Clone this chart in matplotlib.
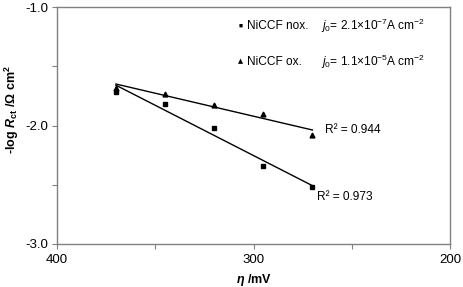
import numpy as np
import matplotlib
matplotlib.use("Agg")
from matplotlib import pyplot as plt
from matplotlib.ticker import MultipleLocator

plt.rcParams['font.family'] = ['Liberation Sans', 'DejaVu Sans']
plt.rcParams['mathtext.fontset'] = 'custom'
plt.rcParams['mathtext.rm'] = 'Liberation Sans'
plt.rcParams['mathtext.it'] = 'Liberation Sans:italic'
plt.rcParams['mathtext.bf'] = 'Liberation Sans:bold'
plt.rcParams['mathtext.bfit'] = 'Liberation Sans:bold:italic'

eta = np.array([370, 345, 320, 295, 270])
nox = np.array([-1.72, -1.82, -2.02, -2.34, -2.52])
ox = np.array([-1.68, -1.73, -1.83, -1.90, -2.08])

fig = plt.figure(figsize=(4.64, 2.87), dpi=100)
ax = fig.add_axes([57/464, 1 - 244/287, (450-57)/464, (244-7)/287])

ax.plot(eta, nox, 's', color='black', markersize=3)
ax.plot(eta, ox, '^', color='black', markersize=3.5)

for y in (nox, ox):
    k, b = np.polyfit(eta, y, 1)
    xx = np.array([eta.max(), eta.min()])
    ax.plot(xx, k * xx + b, color='black', linewidth=1)

ax.set_xlim(400, 200)
ax.set_ylim(-3.0, -1.0)
ax.xaxis.set_major_locator(MultipleLocator(100))
ax.xaxis.set_minor_locator(MultipleLocator(50))
ax.yaxis.set_major_locator(MultipleLocator(1.0))
ax.yaxis.set_minor_locator(MultipleLocator(0.5))
ax.yaxis.set_major_formatter(matplotlib.ticker.FormatStrFormatter('%.1f'))
ax.tick_params(which='both', direction='out', length=3.5, color='#808080',
               labelsize=9.5, width=0.8)
ax.tick_params(axis='x', pad=4)
ax.tick_params(axis='y', pad=3)
for s in ax.spines.values():
    s.set_color('#808080')
    s.set_linewidth(1.0)

ax.set_xlabel(r"$\mathbfit{\eta}$ /mV", fontsize=9, fontweight='bold', labelpad=4)
ax.set_ylabel(r"-log $\mathbfit{R}_{\mathbf{ct}}$ /Ω cm$^{\mathbf{2}}$", fontsize=9,
              fontweight='bold')
ax.yaxis.set_label_coords(-0.092, 0.565)

ax.text(303.5, -1.16, "NiCCF nox.", fontsize=8.6, va='center')
ax.text(306.5, -1.16, "■", fontsize=4.8, va='center', ha='center')
ax.text(303.5, -1.46, "NiCCF ox.", fontsize=8.6, va='center')
ax.text(306.5, -1.46, "▲", fontsize=4.8, va='center', ha='center', family='DejaVu Sans')
ax.text(265.6, -1.16, r"$j_0$= 2.1×10$^{-7}$A cm$^{-2}$", fontsize=8.6, va='center')
ax.text(265.6, -1.46, r"$j_0$= 1.1×10$^{-5}$A cm$^{-2}$", fontsize=8.6, va='center')

ax.text(263.6, -2.04, "R² = 0.944", fontsize=8.6, va='center')
ax.text(267.7, -2.60, "R² = 0.973", fontsize=8.6, va='center')

fig.savefig("out.png", dpi=100)
